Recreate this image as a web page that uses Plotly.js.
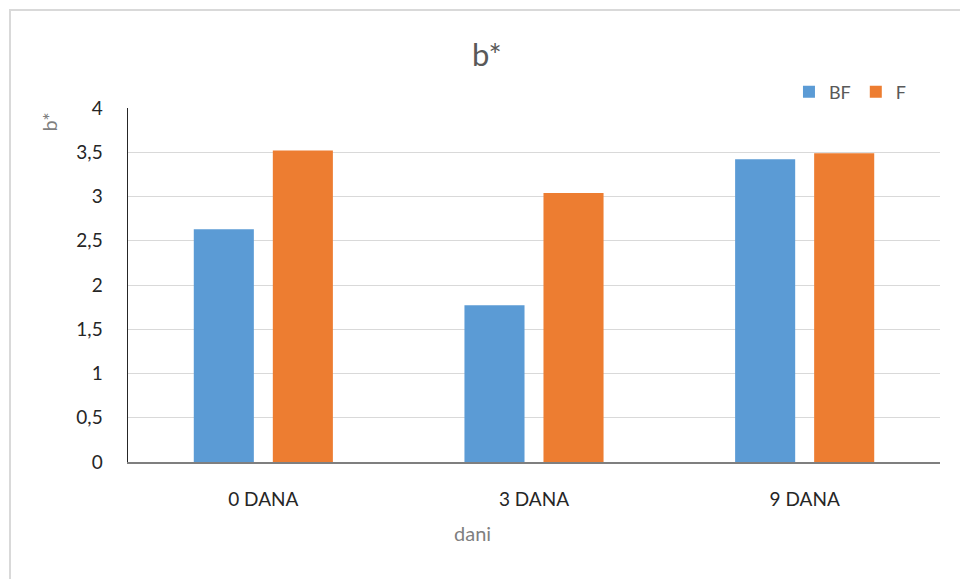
<!DOCTYPE html>
<html>
<head>
<meta charset="utf-8">
<script src="https://cdn.plot.ly/plotly-3.0.1.min.js"></script>
<style>
  html, body { margin: 0; padding: 0; background: #fff; }
  #frame { position: absolute; left: 9px; top: 9px; width: 960px; height: 580px; border: 2px solid #d9d9d9; box-sizing: border-box; }
  #chart { position: absolute; left: 0; top: 0; width: 960px; height: 579px; }
</style>
</head>
<body>
<div id="frame"></div>
<div id="chart"></div>
<script>
const categories = ["0 DANA", "3 DANA", "9 DANA"];
const seriesBF = [2.63, 1.77, 3.42];
const seriesF = [3.52, 3.04, 3.49];
const yTickVals = [0, 0.5, 1, 1.5, 2, 2.5, 3, 3.5, 4];
const yTickText = ["0", "0,5", "1", "1,5", "2", "2,5", "3", "3,5", "4"];

const font = "Lato, 'Open Sans', sans-serif";

const traces = [
  { type: "bar", name: "BF", x: categories, y: seriesBF, marker: { color: "#5b9bd5" }, hoverinfo: "none" },
  { type: "bar", name: "F", x: categories, y: seriesF, marker: { color: "#ed7d31" }, hoverinfo: "none" }
];

const layout = {
  width: 960, height: 579,
  paper_bgcolor: "rgba(0,0,0,0)", plot_bgcolor: "rgba(0,0,0,0)",
  margin: { l: 128, r: 20, t: 108, b: 117 },
  barmode: "group", bargap: 0.416, bargroupgap: 0.24,
  font: { family: font, color: "#595959", size: 18 },
  title: { text: "b*", x: 0.507, xanchor: "center", y: 0.905, yanchor: "middle", font: { size: 31, color: "#595959", family: font } },
  showlegend: true,
  legend: { orientation: "h", x: 0.814, xanchor: "left", y: 1.045, yanchor: "middle", font: { size: 18, color: "#595959" }, itemwidth: 30, traceorder: "normal" },
  xaxis: {
    type: "category", showgrid: false, showline: true, linecolor: "#7f7f7f", linewidth: 1.5,
    ticks: "", ticklabelstandoff: 20, tickfont: { size: 19, color: "#262626" },
    title: { text: "" }, fixedrange: true
  },
  yaxis: {
    range: [0, 4], tickvals: yTickVals, ticktext: yTickText, showgrid: true, gridcolor: "#d9d9d9", gridwidth: 1,
    showline: true, linecolor: "#262626", linewidth: 1.5, zeroline: false, ticks: "", ticklabelstandoff: 20,
    tickfont: { size: 19, color: "#262626" }, fixedrange: true
  },
  annotations: [
    { text: "b*", xref: "paper", yref: "paper", x: -0.097, y: 0.96, xanchor: "center", yanchor: "middle", textangle: -90, showarrow: false, font: { size: 20, color: "#7f7f7f", family: font } },
    { text: "dani", xref: "paper", yref: "paper", x: 0.424, y: -0.2, xanchor: "center", yanchor: "middle", showarrow: false, font: { size: 20, color: "#7f7f7f", family: font } }
  ]
};

Plotly.newPlot("chart", traces, layout, { displayModeBar: false, staticPlot: true });
</script>
</body>
</html>
